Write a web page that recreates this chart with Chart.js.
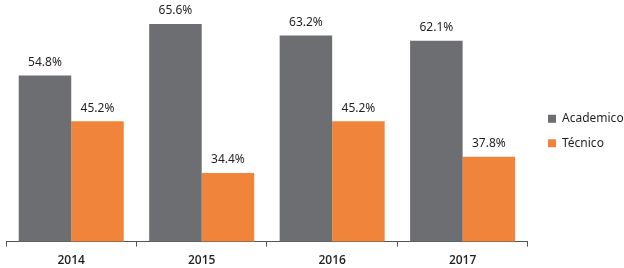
<!DOCTYPE html>
<html>
<head>
<meta charset="utf-8">
<script src="https://cdn.jsdelivr.net/npm/chart.js@4/dist/chart.umd.min.js"></script>
<style>
  html, body { margin: 0; padding: 0; background: #fff; }
  #wrap { width: 624px; height: 268px; }
</style>
</head>
<body>
<div id="wrap"><canvas id="myChart"></canvas></div>
<script>
const years = ['2014', '2015', '2016', '2017'];
const academico = [54.8, 65.6, 63.2, 62.1];
const tecnico = [45.2, 34.4, 45.2, 37.8];

// draws the "54.8%" style labels over each bar
const valueLabels = {
    id: 'valueLabels',
    afterDatasetsDraw(chart) {
        const ctx = chart.ctx;
        ctx.save();
        ctx.font = '12px "Noto Sans"';
        ctx.fillStyle = '#231f20';
        ctx.textAlign = 'center';
        ctx.textBaseline = 'bottom';
        chart.data.datasets.forEach((ds, i) => {
            chart.getDatasetMeta(i).data.forEach((bar, j) => {
                ctx.fillText(ds.data[j].toFixed(1) + '%', bar.x, bar.y - 7);
            });
        });
        ctx.restore();
    }
};

// nudge the legend further right and up than chart.js puts it
const legendShift = {
    id: 'legendShift',
    afterLayout(chart) {
        const lg = chart.legend;
        const dx = 548 - (lg.left + lg.options.labels.padding);
        lg.left += dx;
        lg.right += dx;
        lg.top -= 8;
        lg.bottom -= 8;
    }
};

const ctx = document.getElementById('myChart').getContext('2d');
const chart = new Chart(ctx, {
    type: 'bar',
    data: {
        labels: years,
        datasets: [{
            label: 'Academico',
            data: academico,
            backgroundColor: '#6d6e71'
        }, {
            label: 'Técnico',
            data: tecnico,
            backgroundColor: '#f0843a'
        }]
    },
    options: {
        responsive: true,
        maintainAspectRatio: false,
        animation: false,
        layout: { padding: { left: 6, top: 3, right: -2, bottom: -7 } },
        datasets: { bar: { categoryPercentage: 0.805, barPercentage: 1 } },
        scales: {
            y: { display: false, min: 20, max: 70 },
            x: {
                border: { display: true, color: '#555', width: 1 },
                grid: { offset: true, drawOnChartArea: false, drawTicks: true, tickLength: 5, color: '#555' },
                ticks: { padding: 7, color: '#231f20', font: { family: 'Open Sans', size: 12, weight: '600' } }
            }
        },
        plugins: {
            tooltip: { enabled: false },
            legend: {
                position: 'right',
                labels: {
                    boxWidth: 8, boxHeight: 8, padding: 12.5,
                    color: '#231f20',
                    font: { family: 'Noto Sans', size: 12 }
                }
            }
        }
    },
    plugins: [valueLabels, legendShift]
});
</script>
</body>
</html>
